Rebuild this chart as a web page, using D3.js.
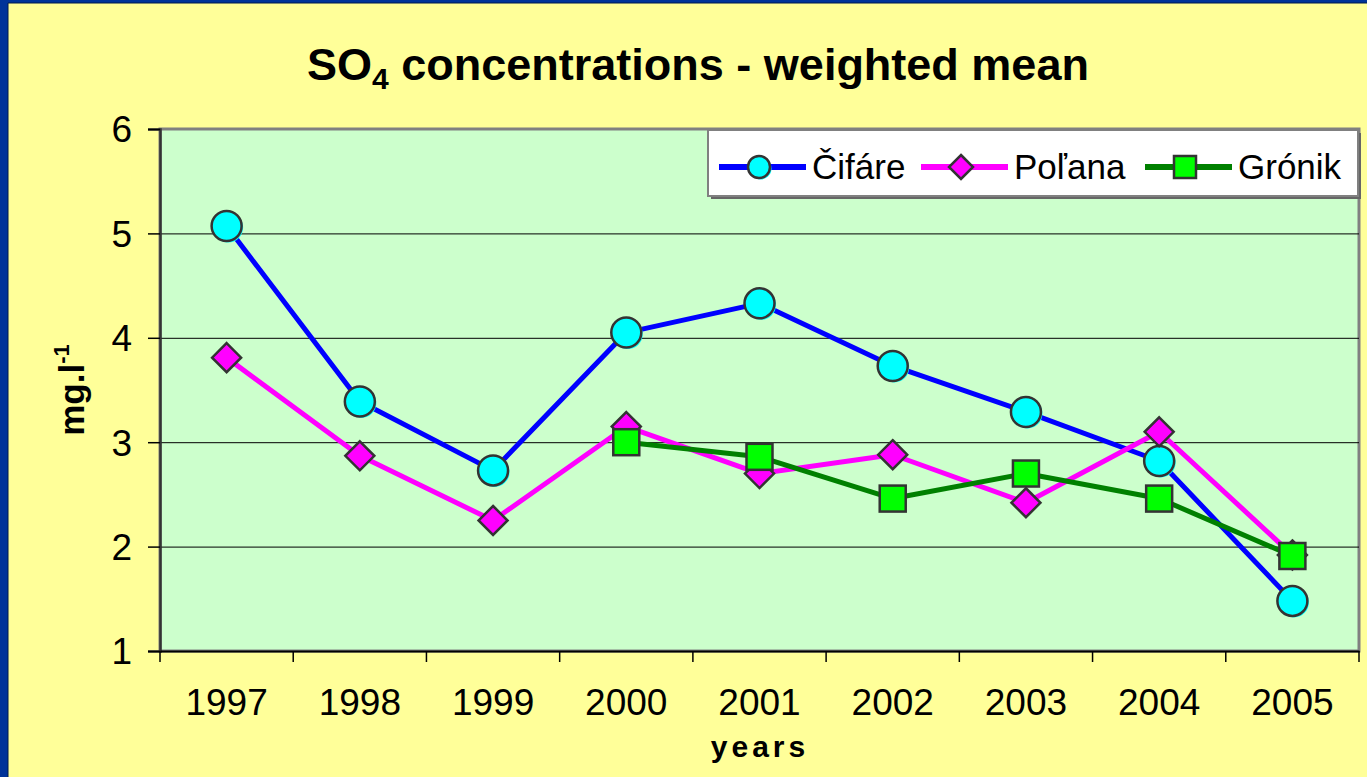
<!DOCTYPE html>
<html>
<head>
<meta charset="utf-8">
<script src="https://cdn.jsdelivr.net/npm/d3@7"></script>
<style type="text/css">
  body{
    margin: 0px;
    background: #ffff99;
  }
  svg text{
    font-family: 'Liberation Sans', Arial, sans-serif;
    fill: black;
  }
</style>
</head>
<body>

<svg id="chart" width="1367" height="777"></svg>

<script>

// chart values
var years = ['1997','1998','1999','2000','2001','2002','2003','2004','2005'];
var cifare = [5.07, 3.39, 2.73, 4.05, 4.33, 3.73, 3.29, 2.82, 1.48];
var polana = [3.81, 2.87, 2.25, 3.15, 2.70, 2.88, 2.42, 3.10, 1.92];
var gronik = [null, null, null, 3.00, 2.86, 2.46, 2.70, 2.46, 1.91];
var yTicks = [1, 2, 3, 4, 5, 6];

var series = [
  { name: 'Čifáre', values: cifare, line: '#0000ff', fill: '#00ffff', shape: 'circle' },
  { name: 'Poľana', values: polana, line: '#ff00ff', fill: '#ff00ff', shape: 'diamond' },
  { name: 'Grónik', values: gronik, line: '#008000', fill: '#00ff00', shape: 'square' }
];

var svg = d3.select('#chart');

// page background + blue frame
svg.append('rect').attr('x', 0).attr('y', 0).attr('width', 1367).attr('height', 777).attr('fill', '#ffff99');
svg.append('rect').attr('x', 0).attr('y', 0).attr('width', 8).attr('height', 777).attr('fill', '#003399');
svg.append('rect').attr('x', 0).attr('y', 0).attr('width', 1367).attr('height', 3).attr('fill', '#003399');
svg.append('line').attr('x1', 8).attr('x2', 8).attr('y1', 3).attr('y2', 777).attr('stroke', '#001a4d').attr('stroke-width', 1);
svg.append('line').attr('x1', 8).attr('x2', 1367).attr('y1', 3).attr('y2', 3).attr('stroke', '#001a4d').attr('stroke-width', 1);

var plotLeft = 160, plotRight = 1359, plotTop = 129, plotBottom = 651;

var x = d3.scaleBand().domain(years).range([plotLeft, plotRight]).padding(0);
var y = d3.scaleLinear().domain([1, 6]).range([plotBottom, plotTop]);

// plot area
svg.append('rect')
  .attr('x', plotLeft).attr('y', plotTop)
  .attr('width', plotRight - plotLeft).attr('height', plotBottom - plotTop)
  .attr('fill', '#ccffcc')
  .attr('stroke', '#808080')
  .attr('stroke-width', 3);

// grid lines
svg.append('g')
  .attr('transform', 'translate(' + plotLeft + ',0)')
  .call(d3.axisLeft(y).tickValues(yTicks.slice(1, -1)).tickSize(-(plotRight - plotLeft)).tickFormat(''))
  .call(function(g) {
    g.select('.domain').remove();
    g.selectAll('line').attr('stroke', 'black').attr('stroke-width', 1);
  });

// y axis
svg.append('g')
  .attr('transform', 'translate(' + plotLeft + ',0)')
  .call(d3.axisLeft(y).tickValues(yTicks).tickSize(12).tickPadding(16).tickFormat(d3.format('d')))
  .call(function(g) {
    g.select('.domain').attr('stroke', '#333').attr('stroke-width', 2.5);
    g.selectAll('line').attr('stroke', 'black').attr('stroke-width', 1.5);
    g.selectAll('text').attr('font-size', 37).attr('dy', '0.35em');
  });

// x axis: labels centred in band, ticks between categories
svg.append('g')
  .attr('transform', 'translate(0,' + plotBottom + ')')
  .call(d3.axisBottom(x).tickSize(0).tickPadding(38))
  .call(function(g) {
    g.select('.domain').attr('stroke', 'black').attr('stroke-width', 2);
    g.selectAll('text').attr('font-size', 37);
  });

var bounds = years.map(function(d) { return x(d); }).concat([x(years[years.length - 1]) + x.bandwidth()]);
svg.append('g')
  .selectAll('line')
  .data(bounds)
  .enter()
  .append('line')
  .attr('x1', function(d) { return d; })
  .attr('x2', function(d) { return d; })
  .attr('y1', plotBottom)
  .attr('y2', plotBottom + 11)
  .attr('stroke', 'black')
  .attr('stroke-width', 1.5);

// markers
function drawMarker(g, shape, cx, cy, size, fill) {
  if (shape == 'circle') {
    g.append('circle').attr('cx', cx + 1.5).attr('cy', cy + 1.5).attr('r', size / 2).attr('fill', fill);
    g.append('circle').attr('cx', cx).attr('cy', cy).attr('r', size / 2)
      .attr('fill', fill).attr('stroke', '#333').attr('stroke-width', 2.5);
  } else if (shape == 'diamond') {
    var h = size / 2;
    g.append('path')
      .attr('d', 'M' + cx + ',' + (cy - h) + 'L' + (cx + h) + ',' + cy + 'L' + cx + ',' + (cy + h) + 'L' + (cx - h) + ',' + cy + 'Z')
      .attr('fill', fill).attr('stroke', '#333').attr('stroke-width', 2.5);
  } else {
    g.append('rect')
      .attr('x', cx - size / 2).attr('y', cy - size / 2)
      .attr('width', size).attr('height', size)
      .attr('fill', fill).attr('stroke', '#333').attr('stroke-width', 2.5);
  }
}

var line = d3.line()
  .defined(function(d) { return d[1] != null; })
  .x(function(d) { return x(d[0]) + x.bandwidth() / 2; })
  .y(function(d) { return y(d[1]); });

var sizes = { circle: 30, diamond: 29, square: 26 };

series.forEach(function(s) {
  var pts = years.map(function(yr, i) { return [yr, s.values[i]]; });
  var g = svg.append('g');
  g.append('path')
    .datum(pts)
    .attr('d', line)
    .attr('fill', 'none')
    .attr('stroke', s.line)
    .attr('stroke-width', 5)
    .attr('stroke-linejoin', 'round');
  pts.forEach(function(p) {
    if (p[1] == null) return;
    drawMarker(g, s.shape, x(p[0]) + x.bandwidth() / 2, y(p[1]), sizes[s.shape], s.fill);
  });
});

// legend
var lg = svg.append('g');
lg.append('rect').attr('x', 711).attr('y', 133).attr('width', 650).attr('height', 66).attr('fill', '#666');
lg.append('rect').attr('x', 708).attr('y', 130).attr('width', 650).attr('height', 66)
  .attr('fill', 'white').attr('stroke', '#808080').attr('stroke-width', 2);

var legendX = [719, 921, 1145];
var legendSizes = { circle: 22, diamond: 24, square: 22 };
series.forEach(function(s, i) {
  var lx = legendX[i];
  lg.append('line')
    .attr('x1', lx).attr('x2', lx + 87)
    .attr('y1', 167).attr('y2', 167)
    .attr('stroke', s.line).attr('stroke-width', 6);
  drawMarker(lg, s.shape, lx + 40, 167, legendSizes[s.shape], s.fill);
  lg.append('text')
    .attr('x', lx + 93)
    .attr('y', 167)
    .attr('dy', '0.35em')
    .attr('font-size', 35)
    .text(s.name);
});

// title
var title = svg.append('text')
  .attr('x', 698)
  .attr('y', 80)
  .attr('text-anchor', 'middle')
  .attr('font-size', 45)
  .attr('font-weight', 'bold');
title.append('tspan').text('SO');
title.append('tspan').attr('font-size', 30).attr('dy', 9).text('4');
title.append('tspan').attr('dy', -9).text(' concentrations - weighted mean');

// axis titles
svg.append('text')
  .attr('x', 760)
  .attr('y', 757)
  .attr('text-anchor', 'middle')
  .attr('font-size', 30)
  .attr('font-weight', 'bold')
  .attr('letter-spacing', 4)
  .text('years');

var yt = svg.append('text')
  .attr('transform', 'translate(84,390) rotate(-90)')
  .attr('text-anchor', 'middle')
  .attr('font-size', 35)
  .attr('font-weight', 'bold');
yt.append('tspan').text('mg.l');
yt.append('tspan').attr('font-size', 22).attr('dy', -15).text('-1');

</script>

</body>
</html>
